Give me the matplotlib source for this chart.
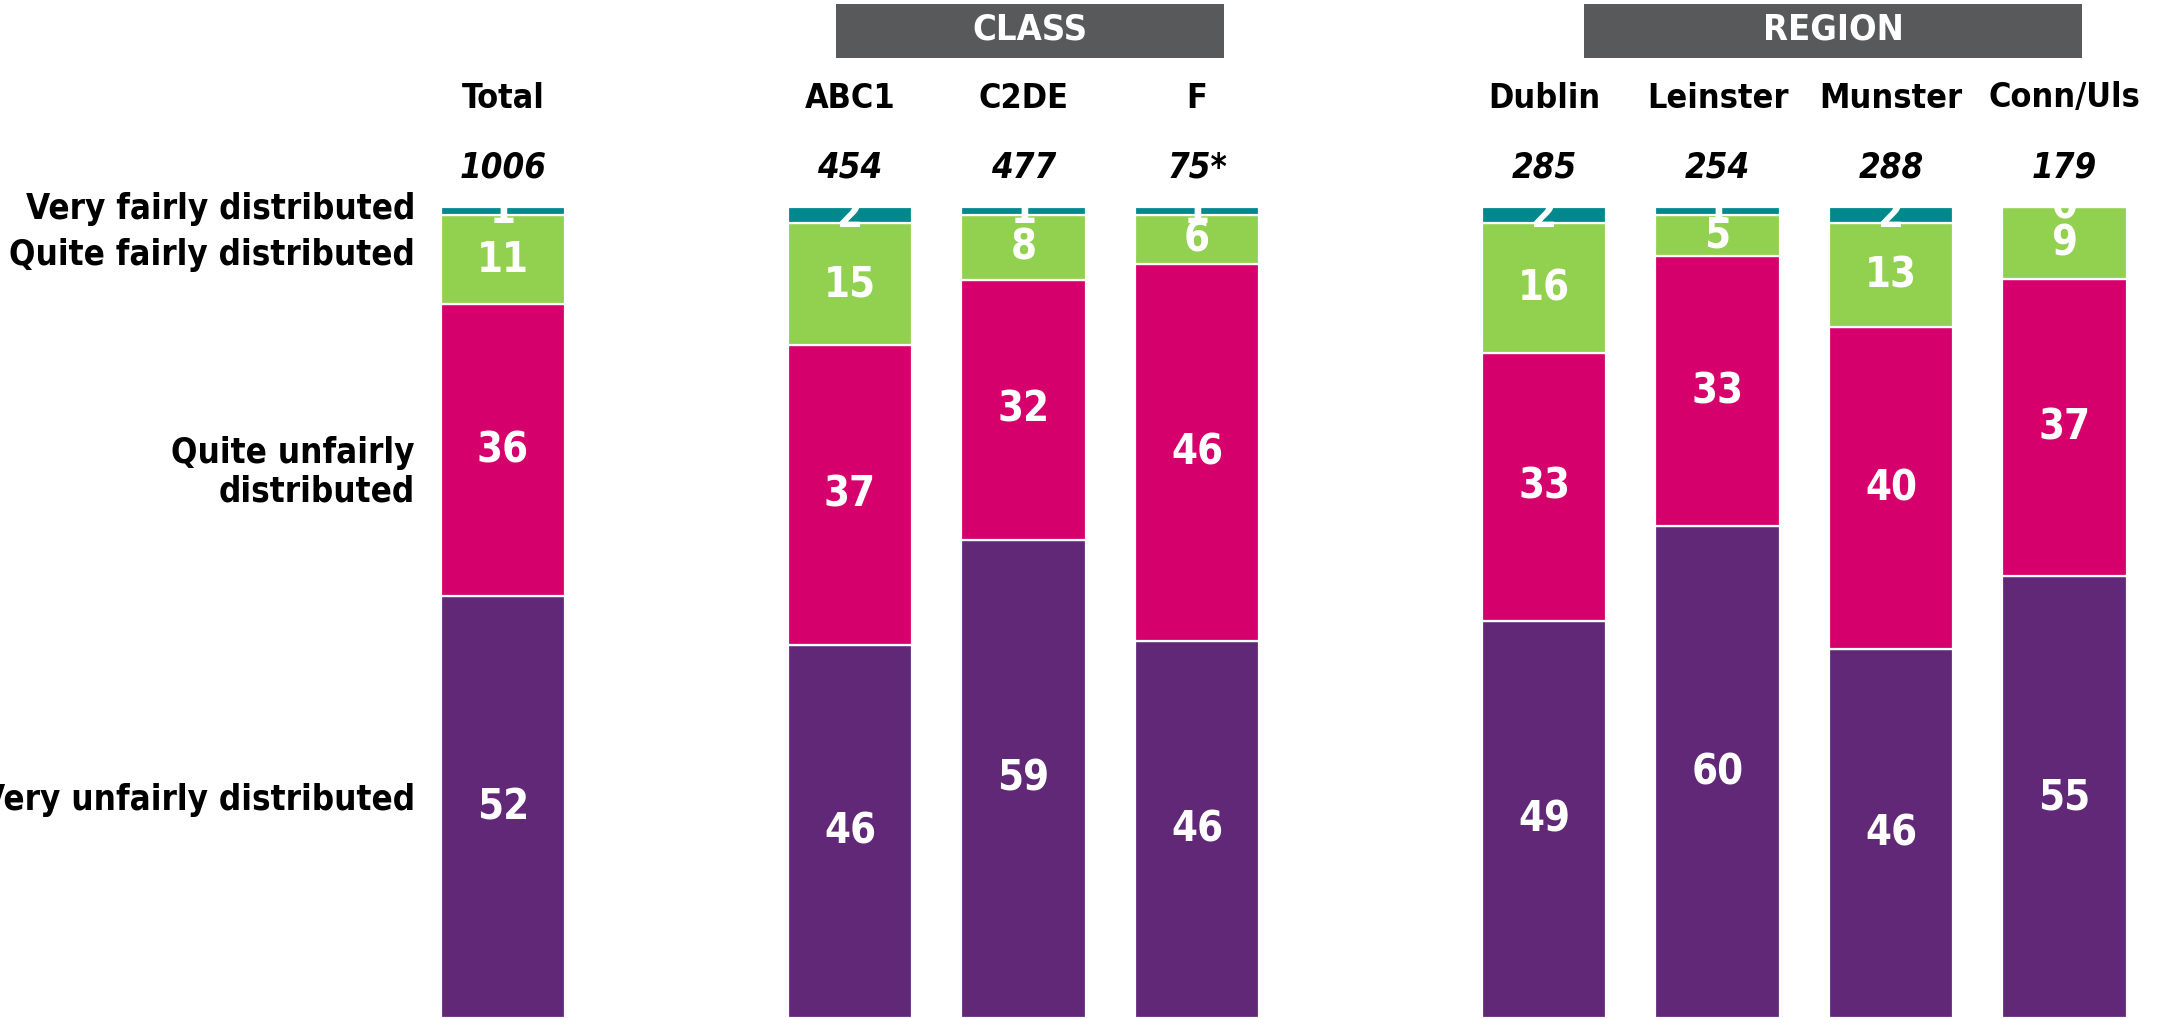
import matplotlib
matplotlib.use("Agg")
import matplotlib.pyplot as plt
from matplotlib.patches import Rectangle
import numpy as np

W, H = 2167, 1018

categories = ["Total", "ABC1", "C2DE", "F", "Dublin", "Leinster", "Munster", "Conn/Uls"]
sample_sizes = ["1006", "454", "477", "75*", "285", "254", "288", "179"]
slots = [0, 2, 3, 4, 6, 7, 8, 9]

series_names = ["Very unfairly distributed", "Quite unfairly\ndistributed",
                "Quite fairly distributed", "Very fairly distributed"]
very_unfairly = [52, 46, 59, 46, 49, 60, 46, 55]
quite_unfairly = [36, 37, 32, 46, 33, 33, 40, 37]
quite_fairly = [11, 15, 8, 6, 16, 5, 13, 9]
very_fairly = [1, 2, 1, 1, 2, 1, 2, 0]

colors = ["#612878", "#D6006D", "#92D050", "#00898C"]
groups = [("CLASS", 836, 1224), ("REGION", 1584, 2082)]

FONT = dict(family="DejaVu Sans", fontstretch="condensed", fontweight="bold")

fig = plt.figure(figsize=(W / 100, H / 100), dpi=100)
x0_px, step_px = 503, 173.5
bar_top_px = 207
ax = fig.add_axes([0, 0, 1, (H - bar_top_px) / H])
ax.set_xlim(-x0_px / step_px, (W - x0_px) / step_px)
ax.set_ylim(0, 100)
ax.axis("off")

data = np.array([very_unfairly, quite_unfairly, quite_fairly, very_fairly], dtype=float)
norm = data / data.sum(axis=0) * 100
x = np.array(slots, dtype=float)
bottom = np.zeros(len(categories))
for i in range(4):
    ax.bar(x, norm[i], bottom=bottom, width=0.717, color=colors[i],
           edgecolor="white", linewidth=1.6)
    for j in range(len(categories)):
        ax.text(x[j], bottom[j] + norm[i][j] / 2, str(int(data[i][j])),
                ha="center", va="center", color="white", fontsize=30,
                clip_on=False, **FONT)
    bottom += norm[i]

def fx(px):
    return px / W

def fy(py):
    return 1 - py / H

# group headers
for name, xa, xb in groups:
    fig.patches.append(Rectangle((fx(xa), fy(58)), fx(xb - xa), (58 - 4) / H,
                                 transform=fig.transFigure, facecolor="#58595B",
                                 edgecolor="none"))
    fig.text(fx((xa + xb) / 2), fy(29), name, ha="center", va="center",
             color="white", fontsize=26, **FONT)

# column titles and sample sizes
for s, cat, n in zip(slots, categories, sample_sizes):
    cx = x0_px + step_px * s
    fig.text(fx(cx), fy(98), cat, ha="center", va="center", color="black",
             fontsize=24.5, **FONT)
    fig.text(fx(cx), fy(168), n, ha="center", va="center", color="black",
             fontsize=25, fontstyle="italic", family="DejaVu Sans",
             fontstretch="condensed", fontweight="bold")

# left side series labels
label_y = [800, 472, 255, 209]
for name, py in zip(series_names, label_y):
    fig.text(fx(415), fy(py), name, ha="right", va="center", color="black",
             fontsize=25, linespacing=1.15, **FONT)

fig.savefig("out.png", dpi=100)
